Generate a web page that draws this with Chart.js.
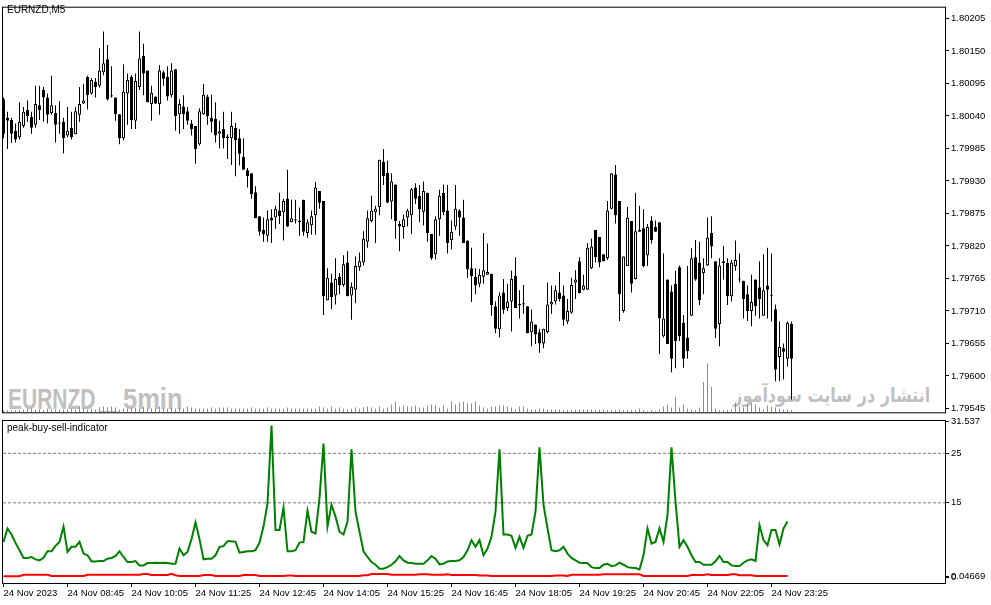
<!DOCTYPE html>
<html>
<head>
<meta charset="utf-8">
<script src="https://cdn.jsdelivr.net/npm/chart.js@4.4.1/dist/chart.umd.min.js"></script>
<style>
    body { margin: 0; background: #fff; }
    #wrap { position: relative; width: 991px; height: 605px; overflow: hidden; background: #fff; }
    canvas { position: absolute; left: 0; }
    #mainChart { top: 0; z-index: 2; }
    #indChart { top: 413px; z-index: 3; }
    .lbl { position: absolute; z-index: 4; font: 10px 'Liberation Sans', Arial, sans-serif; line-height: 10px; color: #000; white-space: pre; }
    .wm { position: absolute; z-index: 1; color: #c0c0c0; white-space: pre; transform-origin: 0 0; font: bold 30px 'Liberation Sans', sans-serif; line-height: 30px; }
    .wmfa { position: absolute; z-index: 1; color: #c0c0c0; white-space: pre; transform-origin: 100% 0; font: bold 20px 'DejaVu Sans', sans-serif; line-height: 20px; }
</style>
</head>
<body>
<div id="wrap">
    <div class="wm" style="left:8px; top:384px; transform:scaleX(0.70)">EURNZD</div>
    <div class="wm" style="left:100px; top:384px">_</div>
    <div class="wm" style="left:123px; top:384px; transform:scaleX(0.85)">5min</div>
    <div class="wmfa" dir="rtl" style="right:61px; top:385px; transform:scaleX(0.8)">انتشار در سایت سودآموز</div>
    <div class="lbl" style="left:7px; top:5px">EURNZD,M5</div>
    <div class="lbl" style="left:7px; top:423px">peak-buy-sell-indicator</div>
    <canvas id="mainChart" width="991" height="420"></canvas>
    <canvas id="indChart" width="991" height="192"></canvas>
</div>
<script>
// EURNZD M5 candles, 24 Nov 2023 from 07:25, one entry per bar
const opens = [
    1.80068,1.80037,1.80033,1.80015,1.80004,1.80023,1.80050,1.80038,1.80025,1.80058,
    1.80084,1.80071,1.80045,1.80045,1.80028,1.80030,1.80007,1.80020,1.80009,1.80042,
    1.80061,1.80106,1.80078,1.80098,1.80091,1.80114,1.80136,1.80075,1.80071,1.80043,
    1.80002,1.80078,1.80106,1.80032,1.80089,1.80142,1.80117,1.80060,1.80073,1.80060,
    1.80114,1.80106,1.80075,1.80119,1.80043,1.80056,1.80048,1.80027,1.80023,1.79992,
    1.80043,1.80073,1.80037,1.80035,1.80010,1.80018,1.80005,1.80002,1.80020,1.80002,
    1.79971,1.79948,1.79943,1.79911,1.79870,1.79847,1.79837,1.79868,1.79868,1.79880,
    1.79877,1.79900,1.79860,1.79865,1.79863,1.79898,1.79842,1.79855,1.79872,1.79913,
    1.79896,1.79728,1.79758,1.79736,1.79768,1.79754,1.79792,1.79736,1.79746,1.79784,
    1.79792,1.79827,1.79862,1.79877,1.79886,1.79962,1.79944,1.79895,1.79924,1.79857,
    1.79852,1.79868,1.79872,1.79919,1.79905,1.79878,1.79910,1.79840,1.79806,1.79865,
    1.79910,1.79880,1.79830,1.79853,1.79880,1.79868,1.79829,1.79782,1.79768,1.79756,
    1.79768,1.79771,1.79773,1.79718,1.79679,1.79741,1.79715,1.79726,1.79769,1.79721,
    1.79723,1.79718,1.79674,1.79687,1.79674,1.79655,1.79674,1.79721,1.79726,1.79741,
    1.79736,1.79692,1.79707,1.79758,1.79794,1.79746,1.79746,1.79782,1.79847,1.79835,
    1.79806,1.79799,1.79883,1.79941,1.79896,1.79710,1.79786,1.79862,1.79764,1.79847,
    1.79850,1.79804,1.79863,1.79852,1.79860,1.79667,1.79763,1.79743,1.79756,1.79784,
    1.79690,1.79665,1.79702,1.79801,1.79792,1.79774,1.79787,1.79842,1.79794,1.79688,
    1.79794,1.79791,1.79735,1.79786,1.79764,1.79761,1.79738,1.79710,1.79763,1.79750,
    1.79702,1.79753,1.79736,1.79713,1.79632,1.79647,1.79629,1.79688
];
const highs = [
    1.80071,1.80047,1.80037,1.80027,1.80063,1.80055,1.80066,1.80047,1.80091,1.80091,
    1.80089,1.80078,1.80108,1.80058,1.80065,1.80037,1.80055,1.80047,1.80055,1.80089,
    1.80094,1.80108,1.80104,1.80104,1.80154,1.80183,1.80160,1.80124,1.80071,1.80043,
    1.80127,1.80112,1.80109,1.80112,1.80183,1.80162,1.80117,1.80091,1.80073,1.80126,
    1.80117,1.80124,1.80129,1.80119,1.80068,1.80075,1.80055,1.80033,1.80023,1.80053,
    1.80094,1.80076,1.80076,1.80063,1.80032,1.80047,1.80009,1.80047,1.80028,1.80018,
    1.80002,1.79952,1.79943,1.79921,1.79870,1.79868,1.79880,1.79882,1.79888,1.79910,
    1.79900,1.79949,1.79898,1.79898,1.79885,1.79898,1.79865,1.79880,1.79928,1.79913,
    1.79896,1.79782,1.79773,1.79799,1.79774,1.79804,1.79811,1.79758,1.79802,1.79809,
    1.79845,1.79880,1.79905,1.79888,1.79966,1.79984,1.79964,1.79943,1.79924,1.79862,
    1.79873,1.79883,1.79918,1.79926,1.79923,1.79929,1.79910,1.79840,1.79870,1.79915,
    1.79924,1.79923,1.79863,1.79923,1.79882,1.79898,1.79829,1.79817,1.79782,1.79781,
    1.79842,1.79824,1.79773,1.79726,1.79741,1.79764,1.79756,1.79778,1.79801,1.79745,
    1.79754,1.79718,1.79712,1.79687,1.79680,1.79680,1.79758,1.79753,1.79753,1.79776,
    1.79753,1.79730,1.79766,1.79779,1.79801,1.79771,1.79825,1.79832,1.79847,1.79835,
    1.79806,1.79896,1.79943,1.79957,1.79896,1.79802,1.79886,1.79862,1.79910,1.79888,
    1.79882,1.79857,1.79870,1.79863,1.79860,1.79807,1.79763,1.79753,1.79778,1.79787,
    1.79703,1.79786,1.79816,1.79830,1.79827,1.79799,1.79868,1.79870,1.79794,1.79799,
    1.79820,1.79799,1.79796,1.79829,1.79807,1.79761,1.79753,1.79771,1.79763,1.79794,
    1.79806,1.79817,1.79807,1.79721,1.79692,1.79655,1.79692,1.79692
];
const lows = [
    1.80002,1.79984,1.79994,1.79995,1.80000,1.80020,1.80030,1.80010,1.80020,1.80033,
    1.80030,1.80027,1.80042,1.79995,1.80010,1.79977,1.80004,1.80000,1.80009,1.80030,
    1.80060,1.80051,1.80076,1.80071,1.80088,1.80109,1.80066,1.80071,1.80032,1.79992,
    1.79999,1.80025,1.80018,1.80018,1.80084,1.80075,1.80063,1.80032,1.80060,1.80042,
    1.80091,1.80066,1.80071,1.80015,1.80010,1.80018,1.80025,1.80007,1.79959,1.79990,
    1.80042,1.80025,1.80012,1.79995,1.79985,1.79985,1.79967,1.79957,1.79938,1.79956,
    1.79949,1.79919,1.79900,1.79867,1.79837,1.79827,1.79827,1.79825,1.79849,1.79857,
    1.79829,1.79852,1.79860,1.79858,1.79837,1.79837,1.79834,1.79839,1.79839,1.79883,
    1.79703,1.79728,1.79713,1.79721,1.79738,1.79751,1.79735,1.79695,1.79723,1.79778,
    1.79787,1.79817,1.79860,1.79825,1.79872,1.79923,1.79893,1.79865,1.79832,1.79811,
    1.79832,1.79853,1.79840,1.79891,1.79860,1.79855,1.79827,1.79796,1.79797,1.79837,
    1.79872,1.79807,1.79814,1.79847,1.79837,1.79825,1.79766,1.79725,1.79738,1.79750,
    1.79756,1.79771,1.79702,1.79672,1.79665,1.79705,1.79710,1.79675,1.79715,1.79697,
    1.79705,1.79672,1.79650,1.79654,1.79639,1.79647,1.79672,1.79705,1.79721,1.79726,
    1.79685,1.79688,1.79705,1.79730,1.79740,1.79745,1.79746,1.79781,1.79792,1.79784,
    1.79794,1.79796,1.79882,1.79858,1.79693,1.79707,1.79786,1.79741,1.79763,1.79844,
    1.79784,1.79786,1.79824,1.79844,1.79637,1.79665,1.79654,1.79606,1.79613,1.79659,
    1.79614,1.79629,1.79702,1.79761,1.79720,1.79738,1.79786,1.79799,1.79664,1.79650,
    1.79763,1.79720,1.79726,1.79778,1.79758,1.79697,1.79693,1.79684,1.79702,1.79697,
    1.79702,1.79697,1.79692,1.79591,1.79591,1.79594,1.79616,1.79560
];
const closes = [
    1.80010,1.80032,1.80010,1.80000,1.80030,1.80047,1.80040,1.80020,1.80060,1.80050,
    1.80071,1.80042,1.80058,1.80025,1.80027,1.80002,1.80015,1.80004,1.80048,1.80060,
    1.80066,1.80075,1.80101,1.80089,1.80117,1.80129,1.80068,1.80073,1.80043,1.80002,
    1.80081,1.80101,1.80033,1.80099,1.80137,1.80112,1.80063,1.80079,1.80061,1.80117,
    1.80103,1.80073,1.80117,1.80040,1.80060,1.80043,1.80032,1.80018,1.79984,1.80048,
    1.80076,1.80040,1.80030,1.80007,1.80014,1.80002,1.80002,1.80023,1.79999,1.79976,
    1.79949,1.79938,1.79908,1.79867,1.79844,1.79840,1.79865,1.79863,1.79883,1.79870,
    1.79896,1.79853,1.79867,1.79863,1.79860,1.79844,1.79860,1.79870,1.79919,1.79893,
    1.79735,1.79766,1.79733,1.79764,1.79753,1.79789,1.79735,1.79751,1.79786,1.79794,
    1.79832,1.79867,1.79880,1.79883,1.79966,1.79938,1.79893,1.79929,1.79862,1.79853,
    1.79865,1.79880,1.79916,1.79900,1.79882,1.79913,1.79842,1.79799,1.79865,1.79905,
    1.79877,1.79825,1.79844,1.79883,1.79868,1.79825,1.79781,1.79769,1.79753,1.79771,
    1.79779,1.79776,1.79720,1.79680,1.79736,1.79712,1.79726,1.79764,1.79715,1.79720,
    1.79721,1.79672,1.79692,1.79670,1.79655,1.79680,1.79721,1.79725,1.79745,1.79730,
    1.79695,1.79710,1.79754,1.79763,1.79740,1.79753,1.79817,1.79819,1.79801,1.79792,
    1.79794,1.79880,1.79943,1.79872,1.79738,1.79802,1.79868,1.79756,1.79845,1.79844,
    1.79786,1.79852,1.79830,1.79844,1.79697,1.79697,1.79654,1.79629,1.79659,1.79667,
    1.79629,1.79642,1.79799,1.79763,1.79728,1.79782,1.79834,1.79819,1.79680,1.79787,
    1.79791,1.79735,1.79792,1.79796,1.79763,1.79730,1.79710,1.79725,1.79718,1.79730,
    1.79745,1.79746,1.79735,1.79611,1.79649,1.79641,1.79690,1.79629
];
// tick volumes
const volumes = [
    40,40,40,40,40,60,80,80,60,60, 40,80,60,60,60,60,60,80,60,120,
    80,60,80,60,100,120,100,120,100,60, 80,80,80,100,80,120,80,80,80,120,
    80,80,100,80,100,80,120,100,80,80, 80,80,100,80,100,100,100,80,80,80,
    80,80,100,80,80,80,100,80,80,80, 80,100,80,80,80,80,80,80,80,120,
    100,80,120,80,100,80,60,80,100,80, 100,120,100,80,120,80,100,160,220,120,
    140,120,120,140,100,100,140,160,140,100, 140,80,220,160,200,220,180,180,220,140,
    100,80,120,120,140,140,120,100,60,120, 120,80,60,60,80,80,60,60,60,60,
    40,40,40,60,60,60,60,60,40,60, 60,40,40,40,60,40,40,40,40,80,
    40,20,40,20,60,120,160,100,320,100, 160,80,60,40,100,620,1000,520,80,40,
    40,40,60,200,120,100,160,200,160,100, 60,140,120,100,80,60,60,40
];
// peak-buy-sell-indicator buffers
const buyLine = [
    7.1,9.8,8.6,6.9,5.4,3.85,3.85,4.05,3.57,3.37, 3.9,5.2,5.2,6.3,7.1,10.2,5.07,6.1,6.1,7.1,
    4.73,4.4,3.16,3.16,3.23,3.23,3.7,3.85,4.25,5.2, 4.05,3.03,3.03,3.23,2.35,2.35,2.82,2.82,2.89,2.82,
    2.89,2.82,2.69,2.69,5.75,4.39,5.07,7.65,11.05,7.65, 3.57,3.71,3.71,4.39,6.1,6.23,7.25,7.25,7.1,4.93,
    5.07,5.2,5.2,5.41,6.97,10.2,14.9,30.6,9.5,9.5, 14.05,5.2,5.2,5.41,6.97,7.1,13.4,9.15,8.8,15.95,
    26.97,10.2,14.6,12.2,9.15,8.6,11.2,25.8,13.2,9.15, 5.2,4.05,3.03,2.48,1.67,1.67,2.0,2.48,3.16,4.25,
    3.37,2.89,2.82,2.69,2.69,2.69,3.37,4.25,3.71,2.55, 2.69,3.16,3.23,3.23,3.37,4.05,5.41,7.45,6.1,7.45,
    4.39,5.75,8.13,13.23,25.8,8.6,8.6,8.33,5.88,8.13, 5.88,8.33,8.6,13.23,26.2,14.6,9.83,5.41,5.2,5.41,
    6.1,4.73,3.85,3.37,2.89,2.82,2.82,2.0,1.8,1.8, 2.48,2.69,2.21,2.35,2.89,2.48,2.0,1.87,1.8,1.53,
    4.39,9.83,6.77,7.1,9.83,7.1,12.55,26.2,15.27,6.1, 7.45,6.1,4.39,3.03,3.03,2.48,2.48,2.48,3.16,4.25,
    3.03,3.03,2.35,2.21,2.21,2.89,3.37,3.57,3.23,10.5, 7.45,6.43,9.5,9.5,6.57,9.83,11.2,null
];
const sellLine = [
    0.15,0.15,0.15,0.15,0.15,0.45,0.45,0.45,0.45,0.45, 0.45,0.45,0.2,0.2,0.2,0.2,0.2,0.2,0.2,0.2,
    0.2,0.45,0.45,0.45,0.45,0.45,0.45,0.45,0.45,0.45, 0.45,0.45,0.45,0.45,0.45,0.6,0.6,0.4,0.4,0.4,
    0.4,0.4,0.65,0.35,0.2,0.2,0.2,0.2,0.2,0.2, 0.4,0.4,0.4,0.2,0.2,0.2,0.2,0.2,0.2,0.2,
    0.4,0.4,0.4,0.4,0.2,0.2,0.2,0.2,0.2,0.2, 0.2,0.3,0.3,0.2,0.2,0.2,0.2,0.2,0.2,0.2,
    0.2,0.2,0.2,0.2,0.2,0.2,0.2,0.2,0.2,0.2, 0.35,0.35,0.6,0.6,0.6,0.6,0.6,0.45,0.45,0.45,
    0.45,0.45,0.45,0.45,0.55,0.55,0.55,0.45,0.45,0.45, 0.45,0.55,0.4,0.4,0.4,0.4,0.4,0.4,0.4,0.3,
    0.3,0.3,0.2,0.2,0.2,0.2,0.2,0.2,0.2,0.2, 0.2,0.2,0.2,0.2,0.2,0.2,0.2,0.2,0.3,0.3,
    0.3,0.2,0.45,0.45,0.45,0.45,0.45,0.45,0.45,0.45, 0.55,0.55,0.55,0.55,0.55,0.55,0.55,0.55,0.55,0.55,
    0.2,0.2,0.2,0.2,0.2,0.2,0.2,0.2,0.2,0.2, 0.2,0.2,0.4,0.4,0.4,0.4,0.55,0.4,0.4,0.4,
    0.4,0.4,0.55,0.55,0.35,0.35,0.35,0.35,0.2,0.2, 0.2,0.2,0.2,0.2,0.2,0.2,0.2,null
];
const levels = [25, 15];

// axis ticks
const priceTicks = [1.80205,1.80150,1.80095,1.80040,1.79985,1.79930,1.79875,1.79820,1.79765,1.79710,1.79655,1.79600,1.79545];
const indTicks = [31.537, 25, 15, 0.04669, 0];
const indTickLabels = ['31.537', '25', '15', '0.04669', '0'];
const timeTickIdx = [0,16,32,48,64,80,96,112,128,144,160,176,192];
const timeLabels = ['24 Nov 2023','24 Nov 08:45','24 Nov 10:05','24 Nov 11:25','24 Nov 12:45','24 Nov 14:05',
    '24 Nov 15:25','24 Nov 16:45','24 Nov 18:05','24 Nov 19:25','24 Nov 20:45','24 Nov 22:05','24 Nov 23:25'];

// 4px per bar, bar centres on half pixels
const X_MIN = -0.125, X_MAX = 235.375;

Chart.defaults.font.family = "'Liberation Sans', Arial, sans-serif";
Chart.defaults.font.size = 9.5;
Chart.defaults.color = '#000';

const framePlugin = {
    id: 'frame',
    afterDraw(chart) {
        const {ctx, chartArea: a} = chart;
        ctx.save();
        ctx.strokeStyle = '#000';
        ctx.lineWidth = 1;
        ctx.strokeRect(a.left - 0.5, a.top - 0.5, a.right - a.left + 1, a.bottom - a.top + 1);
        ctx.restore();
    }
};

const idx = opens.map((_, i) => i);
const bodyColors = idx.map(i => closes[i] >= opens[i] ? '#ffffff' : '#000000');

const barBase = { type: 'bar', grouped: false, inflateAmount: 0, borderSkipped: false };

new Chart(document.getElementById('mainChart'), {
    type: 'bar',
    data: {
        datasets: [
            {
                ...barBase,
                label: 'volume',
                yAxisID: 'yv',
                data: idx.map(i => ({ x: i, y: volumes[i] })),
                backgroundColor: '#32cd32',
                barThickness: 1,
                order: 3
            },
            {
                ...barBase,
                label: 'wick',
                data: idx.map(i => ({ x: i, y: [lows[i], highs[i]] })),
                backgroundColor: '#000000',
                barThickness: 1,
                minBarLength: 1,
                order: 2
            },
            {
                ...barBase,
                label: 'body',
                data: idx.map(i => ({ x: i, y: [opens[i], closes[i]] })),
                backgroundColor: bodyColors,
                borderColor: '#000000',
                borderWidth: 1,
                barThickness: 3,
                minBarLength: 1,
                order: 1
            }
        ]
    },
    options: {
        responsive: false,
        animation: false,
        events: [],
        layout: { padding: { left: 3, top: 3, bottom: 2, right: 0 } },
        plugins: { legend: { display: false }, tooltip: { enabled: false } },
        scales: {
            x: { type: 'linear', display: false, offset: false, grid: { offset: false }, min: X_MIN, max: X_MAX },
            y: {
                position: 'right',
                min: 1.795384,
                max: 1.8022315,
                beginAtZero: false,
                afterBuildTicks: s => { s.ticks = priceTicks.map(v => ({ value: v })); },
                afterFit: s => { s.width = 46; },
                ticks: { callback: v => v.toFixed(5), padding: 2, autoSkip: false },
                grid: { drawOnChartArea: false, tickLength: 4, tickColor: '#000' },
                border: { display: false }
            },
            yv: { display: false, min: 0, max: 8300 }
        }
    },
    plugins: [framePlugin]
});

new Chart(document.getElementById('indChart'), {
    type: 'line',
    data: {
        datasets: [
            ...levels.map(l => ({
                label: 'level ' + l,
                data: [{ x: X_MIN, y: l }, { x: X_MAX, y: l }],
                borderColor: '#7a7a7a',
                borderWidth: 1,
                borderDash: [3, 2],
                pointRadius: 0,
                order: 3
            })),
            {
                label: 'sell',
                data: idx.map(i => ({ x: i, y: sellLine[i] })),
                borderColor: '#ff0000',
                borderWidth: 2,
                pointRadius: 0,
                tension: 0,
                order: 2
            },
            {
                label: 'buy',
                data: idx.map(i => ({ x: i, y: buyLine[i] })),
                borderColor: '#008000',
                borderWidth: 2,
                pointRadius: 0,
                tension: 0,
                order: 1
            }
        ]
    },
    options: {
        responsive: false,
        animation: false,
        events: [],
        layout: { padding: { left: 3, top: 8, bottom: 0, right: 0 } },
        plugins: { legend: { display: false }, tooltip: { enabled: false } },
        scales: {
            x: {
                type: 'linear',
                offset: false,
                min: X_MIN,
                max: X_MAX,
                afterBuildTicks: s => { s.ticks = timeTickIdx.map(v => ({ value: v })); },
                afterFit: s => { s.height = 22; },
                ticks: { callback: (v, i) => timeLabels[i], align: 'start', maxRotation: 0, autoSkip: false, padding: 1 },
                grid: { drawOnChartArea: false, offset: false, tickLength: 4, tickColor: '#000' },
                border: { display: false }
            },
            y: {
                position: 'right',
                min: -1.21,
                max: 31.537,
                afterBuildTicks: s => { s.ticks = indTicks.map(v => ({ value: v })); },
                afterFit: s => { s.width = 46; },
                ticks: { callback: (v, i) => indTickLabels[i], padding: 2, autoSkip: false },
                grid: { drawOnChartArea: false, tickLength: 4, tickColor: '#000' },
                border: { display: false }
            }
        }
    },
    plugins: [framePlugin]
});
</script>
</body>
</html>
